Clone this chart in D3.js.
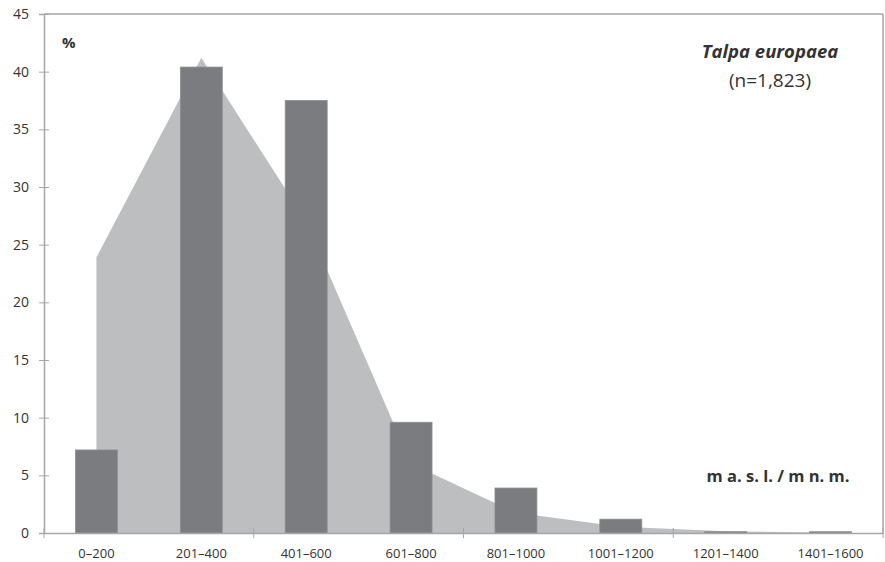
<!DOCTYPE html>
<html>
<head>
<meta charset="utf-8">
<script src="https://cdn.jsdelivr.net/npm/d3@7"></script>
<style>
  html, body { margin: 0; padding: 0; background: #fff; }
  svg { display: block; }
  text { font-family: "Open Sans", sans-serif; fill: #333; }
</style>
</head>
<body>
<svg id="chart" width="885" height="562"></svg>
<script>
const categories = ["0–200", "201–400", "401–600", "601–800", "801–1000", "1001–1200", "1201–1400", "1401–1600"];
const barValues = [7.2, 40.4, 37.5, 9.6, 3.9, 1.2, 0.11, 0.11];
const areaValues = [23.9, 41.2, 27.0, 6.0, 1.75, 0.55, 0.15, 0.05];
const yTicks = [0, 5, 10, 15, 20, 25, 30, 35, 40, 45];
const xTickEvery = 2;

const svg = d3.select("#chart");
const mLeft = 44, mRight = 883, mTop = 14, mBottom = 533;

const x = d3.scaleBand().domain(categories).range([mLeft, mRight]).padding(0);
const y = d3.scaleLinear().domain([0, 45]).range([mBottom, mTop]);
const cx = d => x(d) + x.bandwidth() / 2;

// area series
const area = d3.area()
  .x((d, i) => cx(categories[i]))
  .y0(y(0))
  .y1(d => y(d));
svg.append("path")
  .datum(areaValues)
  .attr("d", area)
  .attr("fill", "#bdbec0");

// bars
const bw = x.bandwidth() * 0.4;
svg.selectAll("rect.bar")
  .data(barValues)
  .enter().append("rect")
  .attr("class", "bar")
  .attr("x", (d, i) => cx(categories[i]) - bw / 2)
  .attr("y", d => y(d))
  .attr("width", bw)
  .attr("height", d => y(0) - y(d))
  .attr("fill", "#7b7c80")
  .attr("stroke", "#8e8f92")
  .attr("stroke-width", 0.8);

// frame (top and right)
svg.append("line").attr("x1", mLeft).attr("x2", mRight).attr("y1", mTop).attr("y2", mTop)
  .attr("stroke", "#a6a6a6").attr("stroke-width", 1.5);
svg.append("line").attr("x1", mRight).attr("x2", mRight).attr("y1", mTop).attr("y2", mBottom)
  .attr("stroke", "#a6a6a6").attr("stroke-width", 1.5);

// y axis
const yAxis = d3.axisLeft(y).tickValues(yTicks).tickSize(5).tickPadding(10).tickFormat(d3.format("d"));
const gy = svg.append("g").attr("transform", `translate(${mLeft},0)`).call(yAxis);
gy.select(".domain").attr("stroke", "#a6a6a6").attr("stroke-width", 1.5);
gy.selectAll(".tick line").attr("stroke", "#a6a6a6").attr("x2", -5).attr("x1", 5);
gy.selectAll(".tick text").attr("font-size", 14).attr("fill", "#333").attr("font-family", "Open Sans, sans-serif");

// x axis
const xAxis = d3.axisBottom(x).tickSize(0).tickPadding(16);
const gx = svg.append("g").attr("transform", `translate(0,${mBottom})`).call(xAxis);
gx.select(".domain").attr("stroke", "#a6a6a6").attr("stroke-width", 1.5);
gx.selectAll(".tick text").attr("font-size", 13).attr("fill", "#333").attr("font-family", "Open Sans, sans-serif");
// tick marks at every second category boundary
const boundaries = d3.range(0, categories.length + 1, xTickEvery).map(i => mLeft + i * x.bandwidth());
svg.selectAll("line.xtick").data(boundaries).enter().append("line")
  .attr("class", "xtick")
  .attr("x1", d => d).attr("x2", d => d)
  .attr("y1", mBottom - 5).attr("y2", mBottom + 5)
  .attr("stroke", "#a6a6a6").attr("stroke-width", 1);

// annotations
svg.append("text").attr("x", 62).attr("y", 48).attr("font-size", 15).attr("font-weight", "bold").attr("fill", "#222").text("%");
svg.append("text").attr("x", 770).attr("y", 58).attr("text-anchor", "middle")
  .attr("font-size", 18.5).attr("font-weight", "bold").attr("font-style", "italic").attr("fill", "#222").text("Talpa europaea");
svg.append("text").attr("x", 770).attr("y", 87).attr("text-anchor", "middle")
  .attr("font-size", 19).attr("fill", "#222").text("(n=1,823)");
svg.append("text").attr("x", 778).attr("y", 482).attr("text-anchor", "middle")
  .attr("font-size", 16.5).attr("font-weight", "bold").attr("fill", "#222").text("m a. s. l. / m n. m.");
</script>
</body>
</html>
